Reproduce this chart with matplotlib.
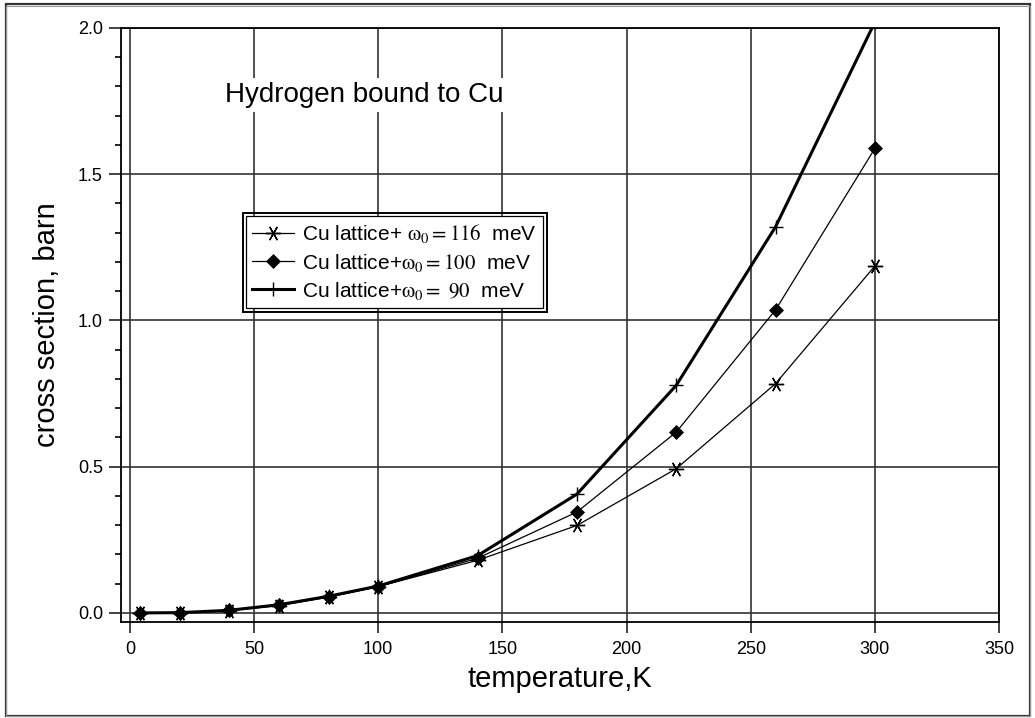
import numpy as np
import matplotlib
matplotlib.use('Agg')
import matplotlib.pyplot as plt
from matplotlib.patches import Rectangle

plt.rcParams['font.family'] = ['Liberation Sans', 'DejaVu Sans']
plt.rcParams['mathtext.fontset'] = 'stix'

# temperature, K
temp = [4, 20, 40, 60, 80, 100, 140, 180, 220, 260, 300]
# cross section, barn
cs_116 = [0.0, 0.001, 0.008, 0.025, 0.054, 0.09, 0.18, 0.299, 0.493, 0.784, 1.186]
cs_100 = [0.0, 0.001, 0.009, 0.027, 0.055, 0.09, 0.187, 0.345, 0.618, 1.036, 1.588]
cs_90 = [0.0, 0.001, 0.009, 0.028, 0.057, 0.092, 0.196, 0.406, 0.778, 1.32, 2.02]

labels = [r'Cu lattice+ $\mathrm{\omega_0=116}$  meV',
          r'Cu lattice+$\mathrm{\omega_0=100}$  meV',
          r'Cu lattice+$\mathrm{\omega_0=\ 90}$  meV']

W, H = 1035, 718
fig = plt.figure(figsize=(W / 100, H / 100), dpi=100)
ax = fig.add_axes([121 / W, 96 / H, 878 / W, 594 / H])

# six-armed asterisk with a horizontal bar, like the original
ast = (6, 2, 30)

ax.plot(temp, cs_116, color='black', lw=0.9, marker=ast, ms=11, mew=1.0,
        label=labels[0], zorder=3)
ax.plot(temp, cs_100, color='black', lw=0.9, marker='D', ms=7, mew=0.5,
        label=labels[1], zorder=3)
ax.plot(temp, cs_90, color='black', lw=2.2, marker='+', ms=10, mew=1.0,
        label=labels[2], zorder=3)

ax.set_xlim(-3.6, 350)
ax.set_ylim(-0.031, 2.0)
ax.set_xticks(np.arange(0, 351, 50))
ax.set_yticks(np.arange(0, 2.01, 0.5))
ax.set_yticks(np.arange(0, 2.01, 0.1), minor=True)
ax.yaxis.set_major_formatter(matplotlib.ticker.FormatStrFormatter('%.1f'))

ax.grid(True, which='major', color='#333333', lw=1.2)
ax.set_axisbelow(True)
for s in ax.spines.values():
    s.set_linewidth(1.3)
    s.set_color('black')

ax.tick_params(axis='both', which='major', direction='out', labelsize=13,
               width=1.2, color='#222222')
ax.tick_params(axis='y', which='major', length=9, pad=4)
ax.tick_params(axis='x', which='major', length=8, pad=6)
ax.tick_params(axis='y', which='minor', direction='out', length=4.5, width=1.2)

ax.set_xlabel('temperature,K', fontsize=21, labelpad=5)
ax.set_ylabel('cross section, barn', fontsize=21, labelpad=12)

ax.text(38.3, 1.747, 'Hydrogen bound to Cu', fontsize=20, ha='left',
        va='baseline', zorder=4,
        bbox=dict(facecolor='white', edgecolor='none', pad=3))

leg = ax.legend(loc='upper left', bbox_to_anchor=((246 - 121) / 878, (622 - 216) / 594),
                fontsize=15, frameon=True, fancybox=False, edgecolor='black',
                framealpha=1, handlelength=2.0, handletextpad=0.4,
                labelspacing=0.3, borderpad=0.3, borderaxespad=0)
leg.get_frame().set_linewidth(0.9)
leg.set_zorder(5)

# second (outer) line of the legend frame
fig.canvas.draw()
bb = leg.get_frame().get_window_extent()
off = 3.5
outer = Rectangle((bb.x0 - off, bb.y0 - off), bb.width + 2 * off, bb.height + 2 * off,
                  transform=None, fill=False, edgecolor='black', lw=1.4, zorder=6)
fig.add_artist(outer)

# figure border
fig.add_artist(Rectangle((6 / W, 2 / H), 1024 / W, 712 / H, transform=fig.transFigure,
                         fill=False, edgecolor='#333333', lw=1.6))
fig.add_artist(Rectangle((6 / W, 2 / H), 1024 / W, 710 / H, transform=fig.transFigure,
                         fill=False, edgecolor='#999999', lw=0.8))

fig.savefig('out.png', dpi=100)
